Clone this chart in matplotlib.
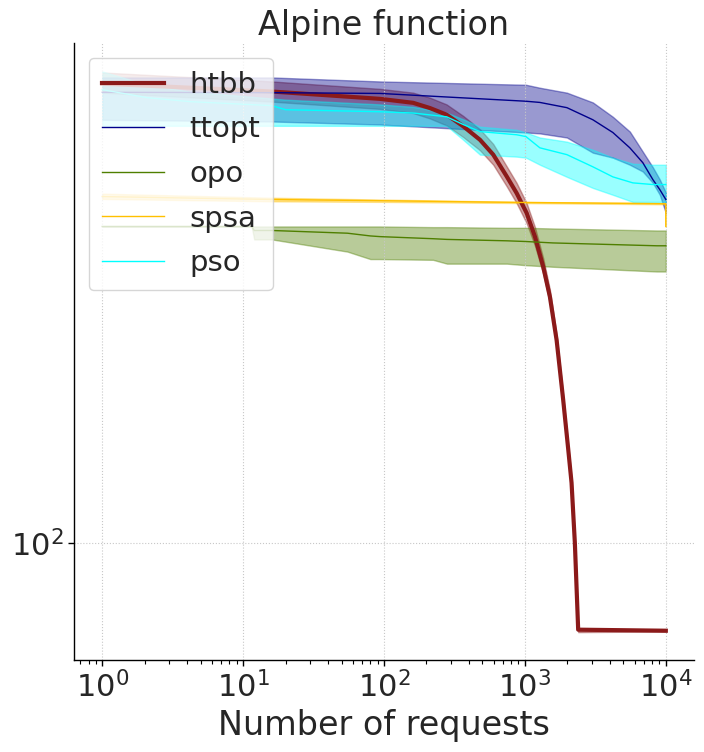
import matplotlib
matplotlib.use("Agg")
import matplotlib.pyplot as plt
from matplotlib.ticker import NullLocator

# ---------------- data ----------------
htbb_x = [1, 16, 94, 161, 212, 278, 365, 480, 596, 742, 873, 1028, 1178, 1349,
          1504, 1679, 1869, 2029, 2143, 2262, 2388, 10000]
htbb_mean = [660, 639, 620, 610, 597, 581, 554, 524, 493, 451, 421, 388, 352, 311,
             275, 230, 180, 147, 128, 100, 70, 69.7]
htbb_hi = [691, 666, 646, 636, 623, 606, 578, 547, 515, 470, 439, 404, 366, 322,
           283, 235, 183, 149.2, 130, 101, 70.2, 69.9]
htbb_lo = [636, 613, 595, 585, 572, 556, 530, 502, 473, 433, 404, 372, 339, 302,
           268, 226, 177, 144.8, 126, 99, 69.3, 69.5]

ttopt_x = [1, 16, 94, 1017, 1277, 1986, 3035, 4207, 5555, 6866, 8090, 9065, 10000]
ttopt_mean = [637, 636, 634, 614, 611, 598, 569, 540, 507, 477, 445, 427, 410]
ttopt_hi = [677, 677, 666, 657, 649, 636, 611, 576, 542, 499, 468, 445, 422]
ttopt_lo = [569, 565, 558, 540, 538, 529, 497, 487, 473, 460, 439, 418, 388]

opo_x = [1, 11.5, 12, 16, 55, 80, 94, 223, 280, 745, 1017, 1580, 8636, 10000]
opo_mean = [367, 367, 361, 361, 357, 353, 352, 349, 348, 346, 345, 343, 339, 339]
opo_hi = [367, 367, 367, 367, 367, 367, 367, 366, 366, 365, 365, 364, 361, 361]
opo_lo = [367, 367, 348, 348, 331, 321, 321, 320, 315, 315, 313, 311, 305, 305]

spsa_x = [1, 16, 94, 1000, 9990, 10000]
spsa_mean = [415, 410, 408, 405, 403, 367]
spsa_hi = [420, 413, 410, 406, 404, 404]
spsa_lo = [411, 407, 406, 404, 402, 367]

pso_x = [1, 2.09, 4.2, 16, 20, 94, 161, 278, 365, 480, 873, 1017, 1277, 1986,
         3035, 4207, 5834, 8090, 10000]
pso_mean = [644, 623, 613, 603, 593, 588, 585, 576, 558, 542, 535, 531, 507, 493,
            469, 450, 439, 436, 436]
pso_hi = [694, 657, 639, 621, 618, 606, 600, 586, 570, 553, 546, 540, 529, 520,
          503, 487, 475, 473, 473]
pso_lo = [555, 555, 555, 555, 555, 555, 555, 555, 524, 493, 489, 487, 473, 450,
          430, 418, 406, 406, 406]

series = [
    ("htbb", htbb_x, htbb_mean, htbb_lo, htbb_hi, "#8B1A1A", 3.0),
    ("ttopt", ttopt_x, ttopt_mean, ttopt_lo, ttopt_hi, "#00008B", 1.0),
    ("opo", opo_x, opo_mean, opo_lo, opo_hi, "#4F7F00", 1.0),
    ("spsa", spsa_x, spsa_mean, spsa_lo, spsa_hi, "#FFC000", 1.0),
    ("pso", pso_x, pso_mean, pso_lo, pso_hi, "#00FFFF", 1.0),
]

TXT = "#262626"
plt.rcParams["font.family"] = ["DejaVu Sans"]

fig = plt.figure(figsize=(7.04, 7.52), dpi=100)
ax = fig.add_axes([74 / 704, 92 / 752, 620 / 704, 617 / 752])

for name, x, m, lo, hi, c, lw in series:
    ax.fill_between(x, lo, hi, color=c, alpha=0.4, linewidth=1)
    ax.plot(x, m, color=c, lw=lw, label=name)

ax.set_xscale("log")
ax.set_yscale("log")
ax.yaxis.set_minor_locator(NullLocator())
ax.set_ylim(61.8, 780)

ax.grid(True, which="major", ls=":", color="#c8c8c8", lw=0.8)
for s in ("top", "right"):
    ax.spines[s].set_visible(False)
for s in ("left", "bottom"):
    ax.spines[s].set_color("black")
    ax.spines[s].set_linewidth(1.0)

ax.tick_params(axis="both", which="major", labelsize=22, labelcolor=TXT,
               length=4.2, width=1, color="black")
ax.tick_params(axis="x", which="minor", length=3, width=0.8, color="black")

ax.set_title("Alpine function", fontsize=24, color=TXT)
ax.set_xlabel("Number of requests", fontsize=24, color=TXT)

leg = ax.legend(loc="upper left", fontsize=21, framealpha=0.8,
                edgecolor="0.8", labelspacing=0.57, handlelength=2.15,
                handletextpad=0.85, borderpad=0.45)
for t in leg.get_texts():
    t.set_color(TXT)

fig.savefig("out.png", dpi=100)
